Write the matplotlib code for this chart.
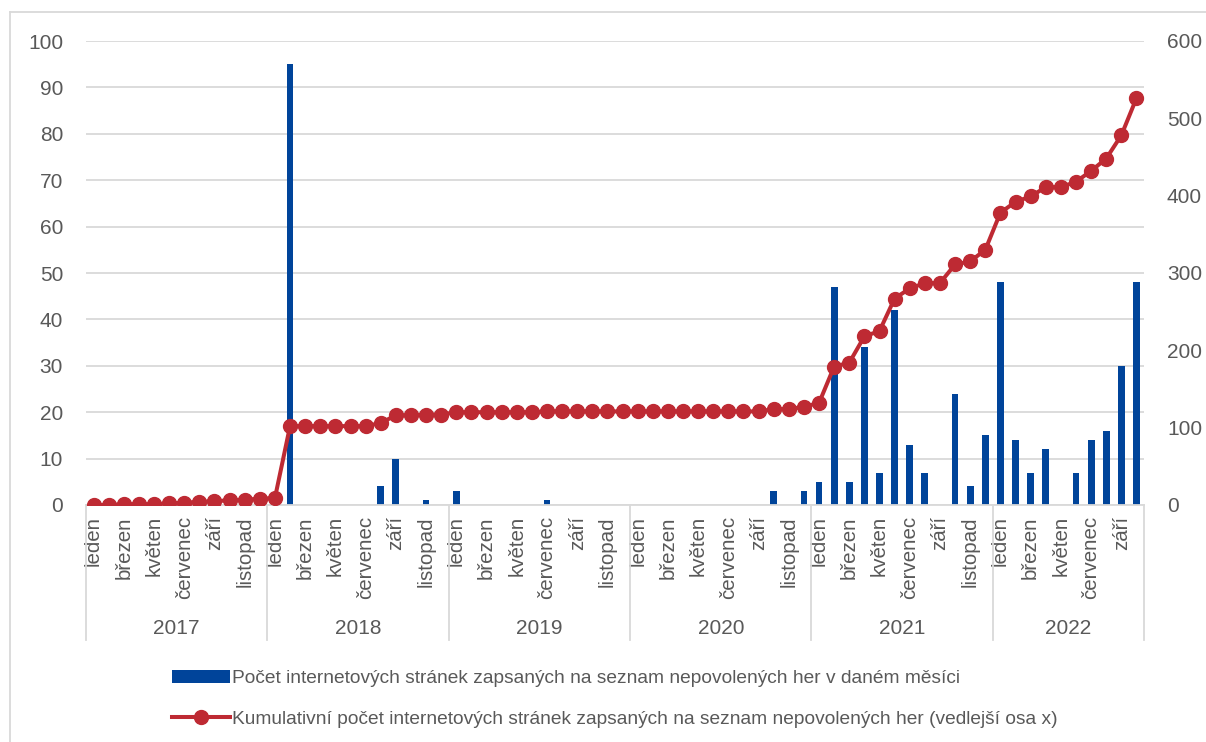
import matplotlib.pyplot as plt
import matplotlib.transforms as mtransforms
import numpy as np

plt.rcParams["font.family"] = ["Liberation Sans", "DejaVu Sans"]

YEARS = ["2017", "2018", "2019", "2020", "2021", "2022"]
MONTHS = ["leden", "únor", "březen", "duben", "květen", "červen",
          "červenec", "srpen", "září", "říjen", "listopad", "prosinec"]
MONTHS_PER_YEAR = [12, 12, 12, 12, 12, 10]

# pocet stranek zapsanych v danem mesici
monthly = [
    0, 0, 0, 0, 0, 0, 0, 0, 0, 0, 0, 0,
    0, 95, 0, 0, 0, 0, 0, 4, 10, 0, 1, 0,
    3, 0, 0, 0, 0, 0, 1, 0, 0, 0, 0, 0,
    0, 0, 0, 0, 0, 0, 0, 0, 0, 3, 0, 3,
    5, 47, 5, 34, 7, 42, 13, 7, 0, 24, 4, 15,
    48, 14, 7, 12, 0, 7, 14, 16, 30, 48,
]

# kumulativni pocet (vedlejsi osa)
cumulative = [
    0, 0, 1, 1, 1, 2, 3, 4, 5, 6, 7, 8,
    9, 102, 102, 102, 102, 102, 102, 106, 116, 116, 117, 117,
    120, 120, 120, 120, 120, 120, 121, 121, 121, 121, 121, 121,
    121, 121, 121, 121, 121, 121, 121, 121, 121, 124, 124, 127,
    132, 179, 184, 218, 225, 267, 280, 287, 287, 311, 315, 330,
    378, 392, 399, 411, 411, 418, 432, 448, 478, 526,
]

BAR_LABEL = "Počet internetových stránek zapsaných na seznam nepovolených her v daném měsíci"
LINE_LABEL = ("Kumulativní počet internetových stránek zapsaných na seznam "
              "nepovolených her (vedlejší osa x)")

BLUE = "#00449A"
RED = "#BE2A33"
GRID = "#D9D9D9"
TEXT = "#595959"

n = len(monthly)
x = np.arange(n)
tick_labels = []
for cnt in MONTHS_PER_YEAR:
    for m in range(cnt):
        tick_labels.append(MONTHS[m] if m % 2 == 0 else "")

fig = plt.figure(figsize=(12.06, 7.42), dpi=100)
ax = fig.add_axes([86 / 1206, 1 - 505 / 742, (1144 - 86) / 1206, (505 - 41) / 742])
ax2 = ax.twinx()

bars = ax.bar(x, monthly, width=0.45, color=BLUE, zorder=2, label=BAR_LABEL)
line, = ax2.plot(x, cumulative, color=RED, lw=2.9, marker="o", markersize=10,
                 zorder=3, label=LINE_LABEL)

ax.set_xlim(-0.5, n - 0.5)
ax.set_ylim(0, 100)
ax.set_yticks(np.arange(0, 101, 10))
ax2.set_ylim(0, 600)
ax2.set_yticks(np.arange(0, 601, 100))
ax.grid(axis="y", color=GRID, lw=1.3, zorder=0)
ax.set_axisbelow(True)

for a in (ax, ax2):
    for s in a.spines.values():
        s.set_visible(False)
    a.tick_params(length=0, labelsize=15, colors=TEXT)
ax.spines["bottom"].set_visible(True)
ax.spines["bottom"].set_color(GRID)
ax.spines["bottom"].set_linewidth(1.3)
ax.tick_params(axis="y", pad=16.5)
ax2.tick_params(axis="y", pad=16.5)

ax.set_xticks(x)
ax.set_xticklabels(tick_labels, rotation=90, fontsize=14.8, color=TEXT, va="top")
ax.tick_params(axis="x", pad=8)

# hranice let a popisky let pod osou
trans = mtransforms.blended_transform_factory(ax.transData, ax.transAxes)
bounds = np.concatenate([[0], np.cumsum(MONTHS_PER_YEAR)]) - 0.5
for b in bounds:
    ax.plot([b, b], [0, -135 / 464], transform=trans, color=GRID, lw=1.3,
            clip_on=False, zorder=1)
for i, year in enumerate(YEARS):
    mid = (bounds[i] + bounds[i + 1]) / 2
    ax.text(mid, -123 / 464, year, transform=trans, ha="center", va="center",
            fontsize=15, color=TEXT)

# ramecek grafu
fig.add_artist(plt.Line2D([10 / 1206, 10 / 1206], [0, 1 - 12 / 742],
                          transform=fig.transFigure, color=GRID, lw=1.3))
fig.add_artist(plt.Line2D([10 / 1206, 1], [1 - 12 / 742, 1 - 12 / 742],
                          transform=fig.transFigure, color=GRID, lw=1.3))

fig.legend([bars, line], [BAR_LABEL, LINE_LABEL], loc="upper left",
           bbox_to_anchor=(172 / 1206, 1 - 670 / 742), frameon=False,
           borderpad=0, borderaxespad=0,
           fontsize=13.8, labelcolor=TEXT, handlelength=3.0, handletextpad=0.15,
           labelspacing=1.2)

fig.savefig("out.png", dpi=100)
